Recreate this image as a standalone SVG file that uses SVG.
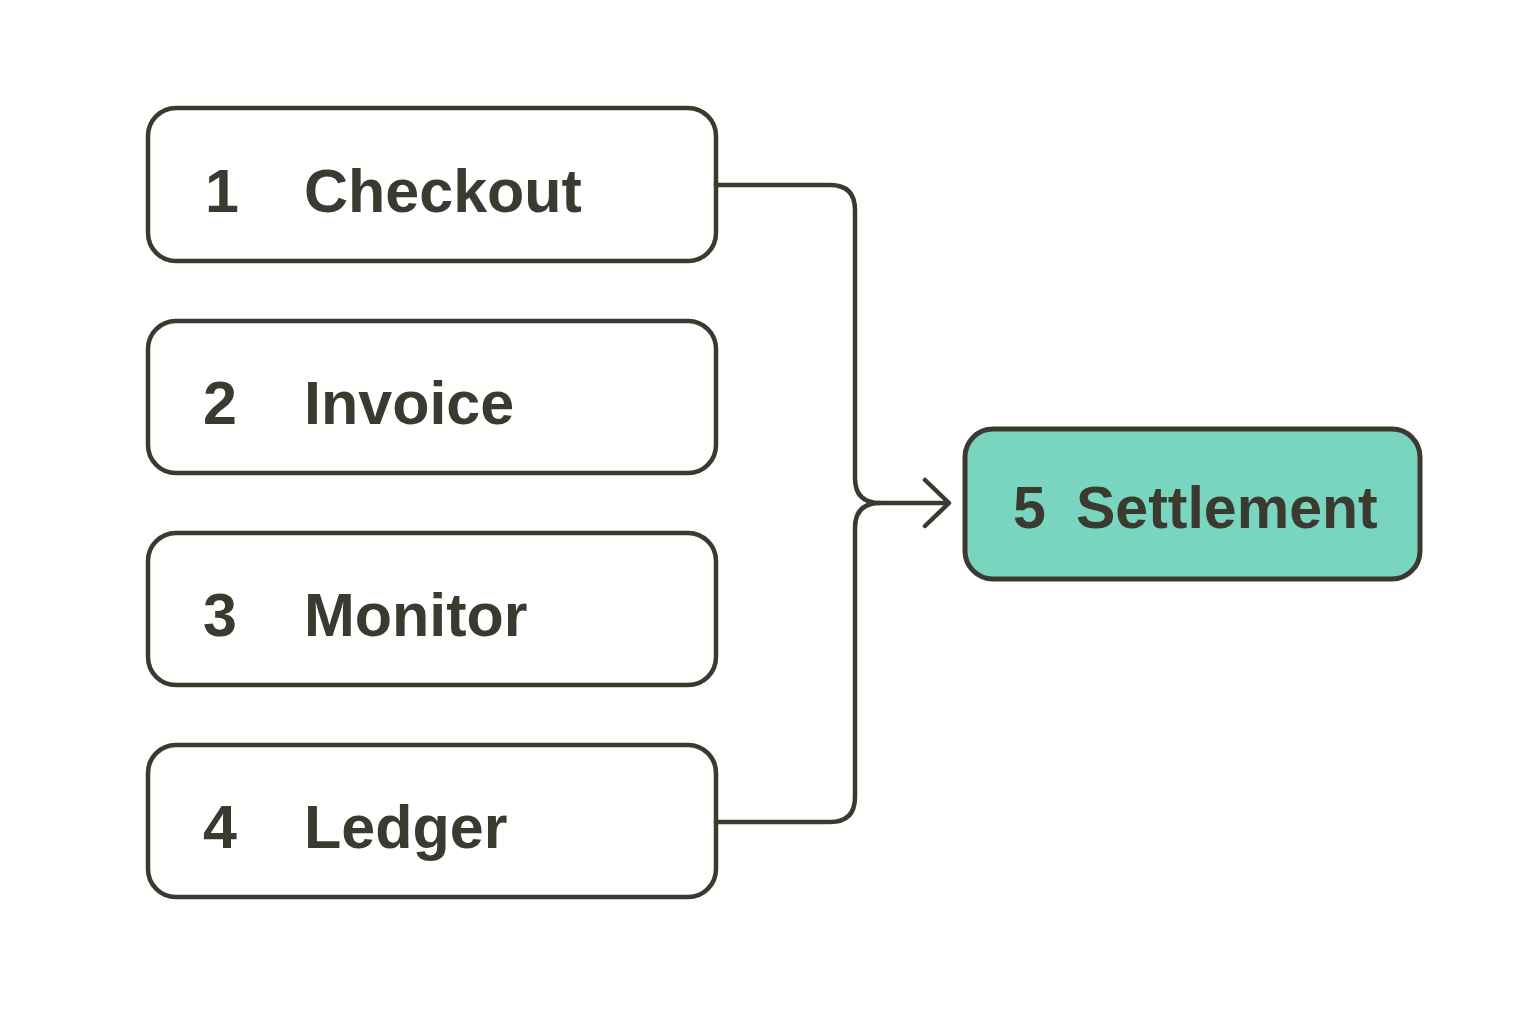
<svg xmlns="http://www.w3.org/2000/svg" width="1536" height="1024" viewBox="0 0 1536 1024">
<style>
.box{fill:#ffffff;stroke:#3b3a30;stroke-width:4.5}
.hl{fill:#79d4c0;stroke:#3b3a30;stroke-width:5}
.t{font-family:"Liberation Sans",Arial,sans-serif;font-weight:bold;font-size:61px;fill:#3b3a30}
.ts{font-family:"Liberation Sans",Arial,sans-serif;font-weight:bold;font-size:59px;fill:#3b3a30}
.c{fill:none;stroke:#3b3a30;stroke-width:4.5;stroke-linecap:round;stroke-linejoin:round}
</style>
<rect width="1536" height="1024" fill="#ffffff"/>
<g id="n1"><rect class="box" x="148" y="108" width="568" height="153" rx="28"/><text class="t" x="205" y="212">1</text><text class="t" x="304" y="212">Checkout</text></g>
<g id="n2"><rect class="box" x="148" y="321" width="568" height="152" rx="28"/><text class="t" x="203" y="424">2</text><text class="t" x="304" y="424">Invoice</text></g>
<g id="n3"><rect class="box" x="148" y="533" width="568" height="152" rx="28"/><text class="t" x="203" y="636">3</text><text class="t" x="304" y="636">Monitor</text></g>
<g id="n4"><rect class="box" x="148" y="745" width="568" height="152" rx="28"/><text class="t" x="203" y="848">4</text><text class="t" x="304" y="848">Ledger</text></g>
<g id="n5"><rect class="hl" x="965" y="429" width="455" height="150" rx="28"/><text class="ts" x="1013" y="528">5</text><text class="ts" x="1076" y="528">Settlement</text></g>
<g id="connectors">
<path class="c" d="M716 185 H830 Q855 185 855 210 V478 Q855 503 880 503 H948"/>
<path class="c" d="M716 822 H830 Q855 822 855 797 V528 Q855 503 880 503"/>
<path class="c" d="M925 480 L949 503 L925 526"/>
</g>
</svg>
